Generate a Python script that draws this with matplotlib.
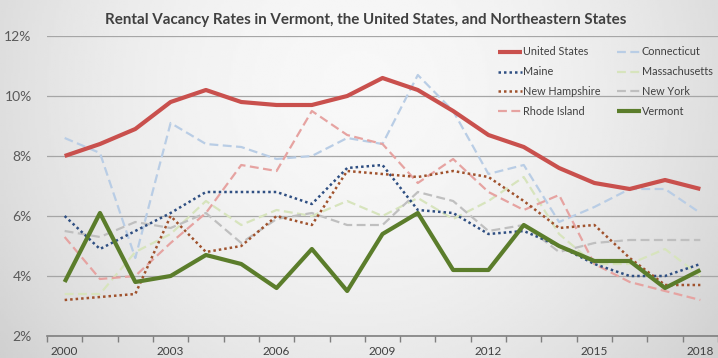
import numpy as np
import matplotlib.pyplot as plt
from matplotlib.lines import Line2D

years = list(range(2000, 2019))
year_labels = ["2000", "2003", "2006", "2009", "2012", "2015", "2018"]

united_states = [8.0, 8.4, 8.9, 9.8, 10.2, 9.8, 9.7, 9.7, 10.0, 10.6, 10.2, 9.5, 8.7, 8.3, 7.6, 7.1, 6.9, 7.2, 6.9]
connecticut = [8.6, 8.1, 4.6, 9.1, 8.4, 8.3, 7.9, 8.0, 8.6, 8.4, 10.7, 9.5, 7.4, 7.7, 5.8, 6.3, 6.9, 6.9, 6.1]
maine = [6.0, 4.9, 5.5, 6.1, 6.8, 6.8, 6.8, 6.4, 7.6, 7.7, 6.2, 6.1, 5.4, 5.5, 5.0, 4.4, 4.0, 4.0, 4.4]
massachusetts = [3.4, 3.4, 4.8, 5.4, 6.5, 5.7, 6.2, 6.0, 6.5, 6.0, 6.6, 5.9, 6.5, 7.3, 5.4, 4.4, 4.4, 4.9, 4.0]
new_hampshire = [3.2, 3.3, 3.4, 6.0, 4.8, 5.0, 6.0, 5.7, 7.5, 7.4, 7.3, 7.5, 7.3, 6.5, 5.6, 5.7, 4.6, 3.7, 3.7]
new_york = [5.5, 5.3, 5.8, 5.6, 6.1, 5.1, 5.9, 6.1, 5.7, 5.7, 6.8, 6.5, 5.5, 5.7, 4.8, 5.1, 5.2, 5.2, 5.2]
rhode_island = [5.3, 3.9, 4.0, 5.1, 6.1, 7.7, 7.5, 9.5, 8.7, 8.4, 7.1, 7.9, 6.8, 6.2, 6.7, 4.4, 3.8, 3.5, 3.2]
vermont = [3.8, 6.1, 3.8, 4.0, 4.7, 4.4, 3.6, 4.9, 3.5, 5.4, 6.1, 4.2, 4.2, 5.7, 5.0, 4.5, 4.5, 3.6, 4.2]

plt.rcParams['font.family'] = ['Lato', 'DejaVu Sans']

W, H = 718, 358
fig = plt.figure(figsize=(W / 100, H / 100), dpi=100)

# soft grey backdrop, brighter toward the upper middle
bg = fig.add_axes([0, 0, 1, 1], zorder=-10)
gx, gy = np.meshgrid(np.linspace(0, 1, 300), np.linspace(0, 1, 150))
shade = 0.97 - 0.40 * ((gx - 0.5) ** 2) - 0.10 * ((gy - 0.25) ** 2)
bg.imshow(shade, cmap='gray', vmin=0, vmax=1, aspect='auto', extent=[0, 1, 1, 0])
bg.set_xlim(0, 1)
bg.set_ylim(1, 0)
bg.axis('off')

ax = fig.add_axes([47 / W, 1 - 336 / H, 1 - 47 / W, 300 / H])
ax.set_facecolor('none')

x = np.arange(len(years))
styles = [
    ("Connecticut", connecticut, dict(color='#B9CDE5', lw=1.6, ls=(0, (4, 2)))),
    ("Massachusetts", massachusetts, dict(color='#D7E4BD', lw=1.6, ls=(0, (4, 2)))),
    ("New York", new_york, dict(color='#BFBFBF', lw=1.6, ls=(0, (4, 2)))),
    ("Rhode Island", rhode_island, dict(color='#E6A3A1', lw=1.6, ls=(0, (4, 2)))),
    ("Maine", maine, dict(color='#2F4F82', lw=1.8, ls=(0, (1, 1.2)))),
    ("New Hampshire", new_hampshire, dict(color='#A0522D', lw=1.8, ls=(0, (1, 1.2)))),
    ("Vermont", vermont, dict(color='#5B7D2B', lw=3.0, ls='-')),
    ("United States", united_states, dict(color='#C9504D', lw=3.0, ls='-')),
]
handles = {}
for name, vals, st in styles:
    (ln,) = ax.plot(x, vals, solid_capstyle='butt', **st)
    handles[name] = ln

ax.set_xlim(-0.5, len(years) - 0.5)
ax.set_ylim(2, 12)
ax.set_yticks([2, 4, 6, 8, 10, 12])
ax.set_yticklabels([f"{v}%" for v in [2, 4, 6, 8, 10, 12]])
ax.grid(axis='y', color='#A6A6A6', lw=0.9)
ax.set_axisbelow(True)

label_idx = [years.index(int(s)) for s in year_labels]
ax.set_xticks(label_idx)
ax.set_xticklabels(year_labels)
ax.set_xticks(np.arange(-0.5, len(years)), minor=True)
ax.tick_params(axis='x', which='major', length=0, pad=7, labelsize=8.5, labelcolor='#404040')
ax.tick_params(axis='x', which='minor', length=4, direction='out', color='#7F7F7F', width=1)
ax.tick_params(axis='y', length=0, pad=11, labelsize=10, labelcolor='#595959')

for s in ['top', 'right', 'left']:
    ax.spines[s].set_visible(False)
ax.spines['bottom'].set_color('#7F7F7F')
ax.spines['bottom'].set_linewidth(1.2)

order = ["United States", "Maine", "New Hampshire", "Rhode Island",
         "Connecticut", "Massachusetts", "New York", "Vermont"]
leg = ax.legend([handles[n] for n in order], order, ncol=2,
                loc='upper left', bbox_to_anchor=(493 / W, 1 - 41 / H),
                bbox_transform=fig.transFigure, frameon=False,
                fontsize=7.8, handlelength=2.2, handletextpad=0.1,
                columnspacing=1.5, labelspacing=0.82, borderpad=0)
for t in leg.get_texts():
    t.set_color('#404040')

fig.text(0.51, 1 - 20 / H,
         "Rental Vacancy Rates in Vermont, the United States, and Northeastern States",
         ha='center', va='center', fontsize=10.9, fontweight='bold', color='#404040')

fig.savefig('out.png', dpi=100)
